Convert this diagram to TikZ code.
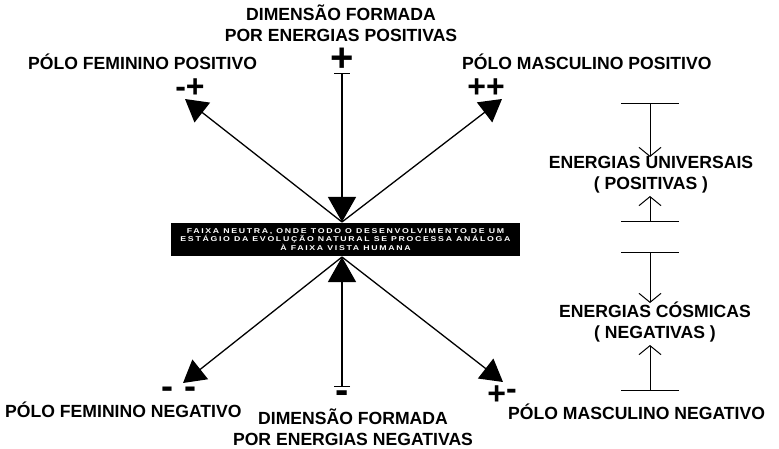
\documentclass[tikz,border=0pt]{standalone}
\usepackage{fontspec}
\setmainfont{Liberation Sans}
\usetikzlibrary{arrows.meta}
\begin{document}
\begin{tikzpicture}[x=1pt,y=-1pt,
  lbl/.style={font=\fontsize{17.6}{21}\selectfont\bfseries, inner sep=0pt, align=center},
  sgn/.style={font=\fontsize{32}{32}\selectfont\bfseries, inner sep=0pt, anchor=base},
  main/.style={line width=1.3pt},
  diag/.style={main, -{Triangle[length=22pt,width=25pt]}},
  vert/.style={main, {Bar[width=16pt,line width=1.3pt]}-{Triangle[length=25pt,width=28pt]}},
  side/.style={line width=1pt, {Bar[width=58pt]}-{Straight Barb[length=9pt,width=22pt,line width=1pt]}},
]
\useasboundingbox (0,0) rectangle (779,449);

% central black band
\node[fill=black, text=white, minimum width=349pt, minimum height=33pt, inner sep=0pt,
      font=\fontsize{7}{8.8}\selectfont\bfseries\addfontfeature{FakeStretch=1.25,LetterSpace=24}, align=center]
  (band) at (345.5,239.5) {FAIXA NEUTRA, ONDE TODO O DESENVOLVIMENTO DE UM\\ESTÁGIO DA EVOLUÇÃO NATURAL SE PROCESSA ANÁLOGA\\À FAIXA VISTA HUMANA};

\coordinate (ctop) at (342,222);
\coordinate (cbot) at (342,257);

% top dimension
\node[lbl] (dimpos) at (341,23.5) {DIMENSÃO FORMADA\\POR ENERGIAS POSITIVAS};
\node[font=\fontsize{40}{40}\selectfont\bfseries, inner sep=0pt, anchor=base, text height=22pt, text depth=0pt] (ptop) at (342,72) {+};
\coordinate (ttop) at (342,73);
\draw[vert] (ttop) -- (ctop);

% bottom dimension
\node[lbl] (dimneg) at (353,427) {DIMENSÃO FORMADA\\POR ENERGIAS NEGATIVAS};
\node[font=\fontsize{40}{40}\selectfont\bfseries, inner sep=0pt, anchor=base] (mbot) at (342,403.5) {-};
\coordinate (tbot) at (342,387);
\draw[vert] (tbot) -- (cbot);

% poles
\node[lbl, anchor=west] (fpos) at (28,62) {PÓLO FEMININO POSITIVO};
\node[sgn] (sfp) at (190,98) {-+};
\coordinate (afp) at (185,99);
\draw[diag] (ctop) -- (afp);

\node[lbl, anchor=west] (mpos) at (462,62) {PÓLO MASCULINO POSITIVO};
\node[sgn] (smp) at (486,98) {++};
\coordinate (amp) at (502,99);
\draw[diag] (ctop) -- (amp);

\node[lbl, anchor=west] (fneg) at (5,410) {PÓLO FEMININO NEGATIVO};
\node[font=\fontsize{36}{36}\selectfont\bfseries, inner sep=0pt] (sfn) at (179,393) {-\,\,-};
\coordinate (afn) at (183,383);
\draw[diag] (cbot) -- (afn);

\node[lbl, anchor=west] (mneg) at (508,412) {PÓLO MASCULINO NEGATIVO};
\node[sgn] (smn) at (502,404) {+\raisebox{5pt}{-}};
\coordinate (amn) at (503,382);
\draw[diag] (cbot) -- (amn);

% right column: universal energies
\node[lbl] (univ) at (651,175) {ENERGIAS UNIVERSAIS\\( POSITIVAS )};
\coordinate (u1) at (650,103);
\coordinate (u2) at (650,222);
\draw[side] (u1) -- (650,157);
\draw[side] (u2) -- (650,196);

\node[lbl] (cosm) at (655,322) {ENERGIAS CÓSMICAS\\( NEGATIVAS )};
\coordinate (c1) at (650,252);
\coordinate (c2) at (650,391);
\draw[side] (c1) -- (650,303);
\draw[side] (c2) -- (650,345);
\end{tikzpicture}
\end{document}
